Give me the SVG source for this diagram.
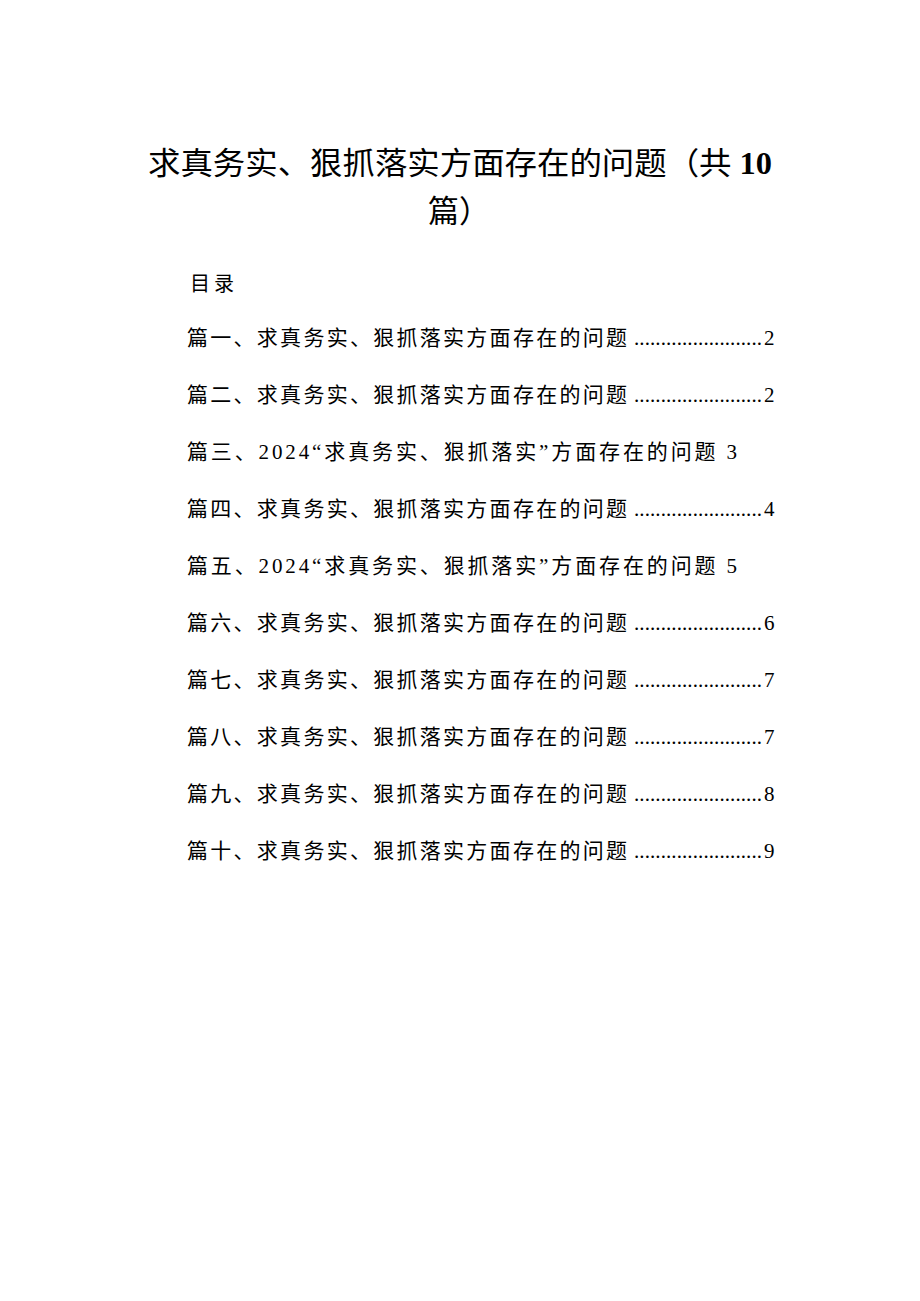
<svg xmlns="http://www.w3.org/2000/svg" width="920" height="1301" viewBox="0 0 920 1301">
<style>
.t{font-family:"Liberation Serif","Noto Sans CJK SC",serif;fill:#000}
.e{font-size:21px}
</style>
<rect width="920" height="1301" fill="#fff"/>
<text class="t" x="148" y="174" font-size="31" textLength="624" lengthAdjust="spacingAndGlyphs">求真务实、狠抓落实方面存在的问题（共 <tspan font-weight="bold">10</tspan></text>
<text class="t" x="428" y="222" font-size="31">篇）</text>
<text class="t" x="190" y="291" font-size="20" letter-spacing="4">目录</text>
<g class="t e">
<text x="187" y="345" textLength="440">篇一、求真务实、狠抓落实方面存在的问题</text><text x="634" y="345" textLength="128" lengthAdjust="spacing">........................</text><text x="764" y="345">2</text>
<text x="187" y="402" textLength="440">篇二、求真务实、狠抓落实方面存在的问题</text><text x="634" y="402" textLength="128" lengthAdjust="spacing">........................</text><text x="764" y="402">2</text>
<text x="187" y="459" textLength="550">篇三、2024“求真务实、狠抓落实”方面存在的问题 3</text>
<text x="187" y="516" textLength="440">篇四、求真务实、狠抓落实方面存在的问题</text><text x="634" y="516" textLength="128" lengthAdjust="spacing">........................</text><text x="764" y="516">4</text>
<text x="187" y="573" textLength="550">篇五、2024“求真务实、狠抓落实”方面存在的问题 5</text>
<text x="187" y="630" textLength="440">篇六、求真务实、狠抓落实方面存在的问题</text><text x="634" y="630" textLength="128" lengthAdjust="spacing">........................</text><text x="764" y="630">6</text>
<text x="187" y="687" textLength="440">篇七、求真务实、狠抓落实方面存在的问题</text><text x="634" y="687" textLength="128" lengthAdjust="spacing">........................</text><text x="764" y="687">7</text>
<text x="187" y="744" textLength="440">篇八、求真务实、狠抓落实方面存在的问题</text><text x="634" y="744" textLength="128" lengthAdjust="spacing">........................</text><text x="764" y="744">7</text>
<text x="187" y="801" textLength="440">篇九、求真务实、狠抓落实方面存在的问题</text><text x="634" y="801" textLength="128" lengthAdjust="spacing">........................</text><text x="764" y="801">8</text>
<text x="187" y="858" textLength="440">篇十、求真务实、狠抓落实方面存在的问题</text><text x="634" y="858" textLength="128" lengthAdjust="spacing">........................</text><text x="764" y="858">9</text>
</g>
</svg>
